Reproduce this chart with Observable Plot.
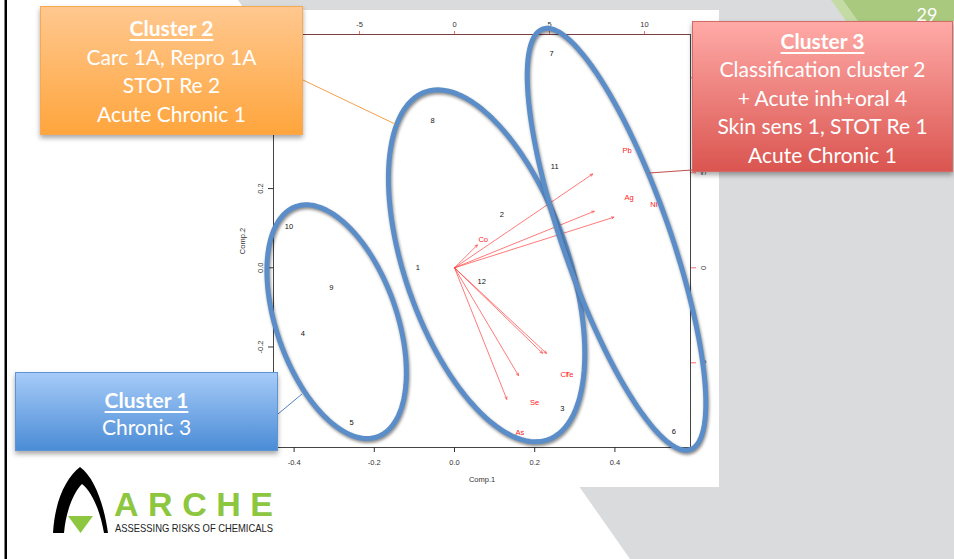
<!DOCTYPE html>
<html><head><meta charset="utf-8">
<script src="https://cdn.jsdelivr.net/npm/d3@7"></script>
<script src="https://cdn.jsdelivr.net/npm/@observablehq/plot@0.6"></script>
<style>
html,body{margin:0;padding:0;background:#fff;}
#slide{position:relative;width:954px;height:559px;overflow:hidden;background:#fff;}
.abs{position:absolute;}
.box{position:absolute;box-sizing:border-box;color:#fff;text-align:center;font-family:Lato,"Open Sans",sans-serif;font-size:21px;box-shadow:0 3px 5px rgba(0,0,0,0.35);white-space:nowrap;}
.box .t{font-weight:bold;text-decoration:underline;text-decoration-thickness:2px;text-underline-offset:3px;}
#plots svg{position:absolute;left:0;top:0;}
#prim g[aria-label="line"] path{filter:drop-shadow(1px 2px 1.5px rgba(0,0,0,0.45));}
</style>
</head><body>
<div id="slide">
  <svg class="abs" width="954" height="559" style="left:0;top:0">
    <polygon points="238,0 954,0 954,559 630,559" fill="#dadbdd"/>
    <polygon points="831,0 954,0 954,21 846,21" fill="#c4dba6"/>
    <polygon points="843,0 954,0 954,21 858,21" fill="#a9c97f"/>
    <text x="927" y="21" text-anchor="middle" font-family="Lato, sans-serif" font-size="18" fill="#fff">29</text>
    <rect x="4.5" y="0" width="2.5" height="559" fill="#000"/>
  </svg>
  <div class="abs" style="left:230px;top:10px;width:489px;height:477px;background:#fff"></div>
  <div id="plots" class="abs" style="left:230px;top:10px;width:489px;height:477px"></div>
  <svg class="abs" width="954" height="559" style="left:0;top:0">
    <line x1="303" y1="80" x2="395" y2="124" stroke="#f5a04a" stroke-width="1"/>
    <line x1="649" y1="173" x2="692" y2="170" stroke="#c0504d" stroke-width="1.2"/>
    <line x1="278" y1="414" x2="302" y2="394" stroke="#4f81bd" stroke-width="1"/>
  </svg>
  <div class="box" style="left:40px;top:6px;width:263px;height:129px;padding-top:7.4px;line-height:28.4px;background:linear-gradient(#ffc88f,#ffa53d);border:1px solid #f7a850;">
    <div class="t">Cluster 2</div><div>Carc 1A, Repro 1A</div><div>STOT Re 2</div><div>Acute Chronic 1</div>
  </div>
  <div class="box" style="left:692px;top:21px;width:261px;height:151px;padding-top:4.6px;line-height:28.6px;background:linear-gradient(#ffaaa7,#da5550);border:1px solid #d46a66;">
    <div class="t">Cluster 3</div><div>Classification cluster 2</div><div>+ Acute inh+oral 4</div><div>Skin sens 1, STOT Re 1</div><div>Acute Chronic 1</div>
  </div>
  <div class="box" style="left:15px;top:372px;width:263px;height:79px;padding-top:12.9px;line-height:27.3px;background:linear-gradient(#a6cbf8,#4b8cd6);border:1px solid #5d95d5;">
    <div class="t">Cluster 1</div><div>Chronic 3</div>
  </div>
  <svg class="abs" width="954" height="559" style="left:0;top:0">
    <path d="M53,533 C55,500 66,478 80,467 C95,478 104,505 108,533 L104,533 C100,510 92,492 82,484 C74,492 66,510 64,533 Z" fill="#000"/>
    <polygon points="68,516 93,516 80.5,533" fill="#8dc63f"/>
    <text x="114" y="516" font-family="Liberation Sans, Arial, sans-serif" font-weight="bold" font-size="34" fill="#8dc63f" textLength="159" lengthAdjust="spacing">ARCHE</text>
    <text x="115" y="532" font-family="Liberation Sans, Arial, sans-serif" font-size="11.5" fill="#222" textLength="158" lengthAdjust="spacingAndGlyphs">ASSESSING RISKS OF CHEMICALS</text>
  </svg>
</div>
<script>
// ---- Principal component scores (Comp.1, Comp.2) of the 12 samples
const sampleIds = ["1","2","3","4","5","6","7","8","9","10","11","12"];
const comp1 = [-0.0915, 0.118, 0.269, -0.378, -0.257, 0.547, 0.242, -0.055, -0.307, -0.413, 0.250, 0.068];
const comp2 = [0.0015, 0.135, -0.356, -0.167, -0.390, -0.413, 0.540, 0.372, -0.049, 0.105, 0.256, -0.035];

// ---- Variable loadings (secondary axes; arrows drawn at 0.8 x loading as in R biplot)
const varNames = ["Pb","Ag","Ni","Co","Cr","Te","Se","As"];
const loadX = [9.09, 9.19, 10.49, 1.51, 5.79, 6.05, 4.21, 3.44];
const loadY = [6.17, 3.72, 3.33, 1.51, -5.62, -5.63, -7.09, -8.65];
const arrowShrink = 0.8;

// ---- Axis ticks and domains
const comp1Ticks = [-0.4, -0.2, 0.0, 0.2, 0.4];
const comp2Ticks = [-0.2, 0.0, 0.2];
const loadTicks = [-5, 0, 5, 10];
const comp1Domain = [-0.4514, 0.5885];
const comp2Domain = [-0.4538, 0.5891];
const loadXDomain = [-9.526, 12.421];
const loadYDomain = [-9.458, 12.279];

// ---- Cluster ellipses (hand-drawn on slide), in Comp units
const clusterNames = ["Cluster 1","Cluster 2","Cluster 3"];
const ellCx = [-0.294, 0.080, 0.404];
const ellCy = [-0.136, 0.005, 0.072];
const ellA = [0.308, 0.465, 0.562];
const ellB = [0.150, 0.203, 0.133];
const ellAngle = [-70.9, -70.9, -70.9];

const ellipsePts = clusterNames.flatMap((g, i) => {
  const r = ellAngle[i] * Math.PI / 180;
  return d3.range(0, 360, 3).map(t => {
    const u = t * Math.PI / 180;
    return {
      g,
      x: ellCx[i] + ellA[i] * Math.cos(u) * Math.cos(r) - ellB[i] * Math.sin(u) * Math.sin(r),
      y: ellCy[i] + ellA[i] * Math.cos(u) * Math.sin(r) + ellB[i] * Math.sin(u) * Math.cos(r)
    };
  });
});

const samples = sampleIds.map((id, i) => ({id, x: comp1[i], y: comp2[i]}));
const loads = varNames.map((n, i) => ({n, x: loadX[i], y: loadY[i]}));

const W = 489, H = 477;
const M = {marginLeft: 43, marginRight: 29, marginTop: 24, marginBottom: 40};
const baseStyle = {background: "transparent", fontFamily: "Liberation Sans, Arial, sans-serif", fontSize: "7.5px", overflow: "visible", color: "#222"};
const fmt1 = d => d.toFixed(1);

const sec = Plot.plot({
  width: W, height: H, ...M, style: baseStyle,
  x: {domain: loadXDomain}, y: {domain: loadYDomain},
  marks: [
    Plot.axisX(loadTicks, {anchor: "top", tickSize: 4, tickPadding: 4, stroke: "#ff6b6b", fill: "#333", label: null, tickFormat: d => String(d)}),
    Plot.axisY(loadTicks, {anchor: "right", tickSize: 5, stroke: "#ff6b6b", fill: "none", label: null}),
    Plot.text(loadTicks, {y: d => d, frameAnchor: "right", dx: 13.5, rotate: -90, textAnchor: "middle", lineAnchor: "middle", text: d => String(d), fill: "#333"}),
    Plot.arrow(loads, {x1: 0, y1: 0, x2: d => d.x * arrowShrink, y2: d => d.y * arrowShrink, stroke: "#ff4040", strokeWidth: 0.7, headLength: 5.5, headAngle: 50}),
    Plot.text(loads, {x: "x", y: "y", text: "n", fill: "#ff2020"})
  ]
});

const prim = Plot.plot({
  width: W, height: H, ...M, style: baseStyle,
  x: {domain: comp1Domain}, y: {domain: comp2Domain},
  marks: [
    Plot.frame({stroke: "#444"}),
    Plot.ruleY([comp2Domain[1]], {stroke: "#7a3f3f"}),
    Plot.axisX(comp1Ticks, {anchor: "bottom", tickSize: 5, tickPadding: 7, stroke: "#333", fill: "#333", label: null, tickFormat: fmt1}),
    Plot.axisY(comp2Ticks, {anchor: "left", tickSize: 5, stroke: "#333", fill: "none", label: null}),
    Plot.text(comp2Ticks, {y: d => d, frameAnchor: "left", dx: -13.2, rotate: -90, textAnchor: "middle", lineAnchor: "middle", text: fmt1, fill: "#333"}),
    Plot.text(["Comp.1"], {frameAnchor: "bottom", dy: 32, textAnchor: "middle", lineAnchor: "middle", fill: "#333"}),
    Plot.text(["Comp.2"], {frameAnchor: "left", dx: -31, rotate: -90, textAnchor: "middle", lineAnchor: "middle", fill: "#333"}),
    Plot.text(samples, {x: "x", y: "y", text: "id", fill: "#111"}),
    Plot.line(ellipsePts, {x: "x", y: "y", z: "g", stroke: "#5b8ec9", strokeWidth: 5, curve: "linear-closed"})
  ]
});
prim.id = "prim";
const holder = document.getElementById("plots");
holder.appendChild(sec);
holder.appendChild(prim);
</script>
</body></html>
